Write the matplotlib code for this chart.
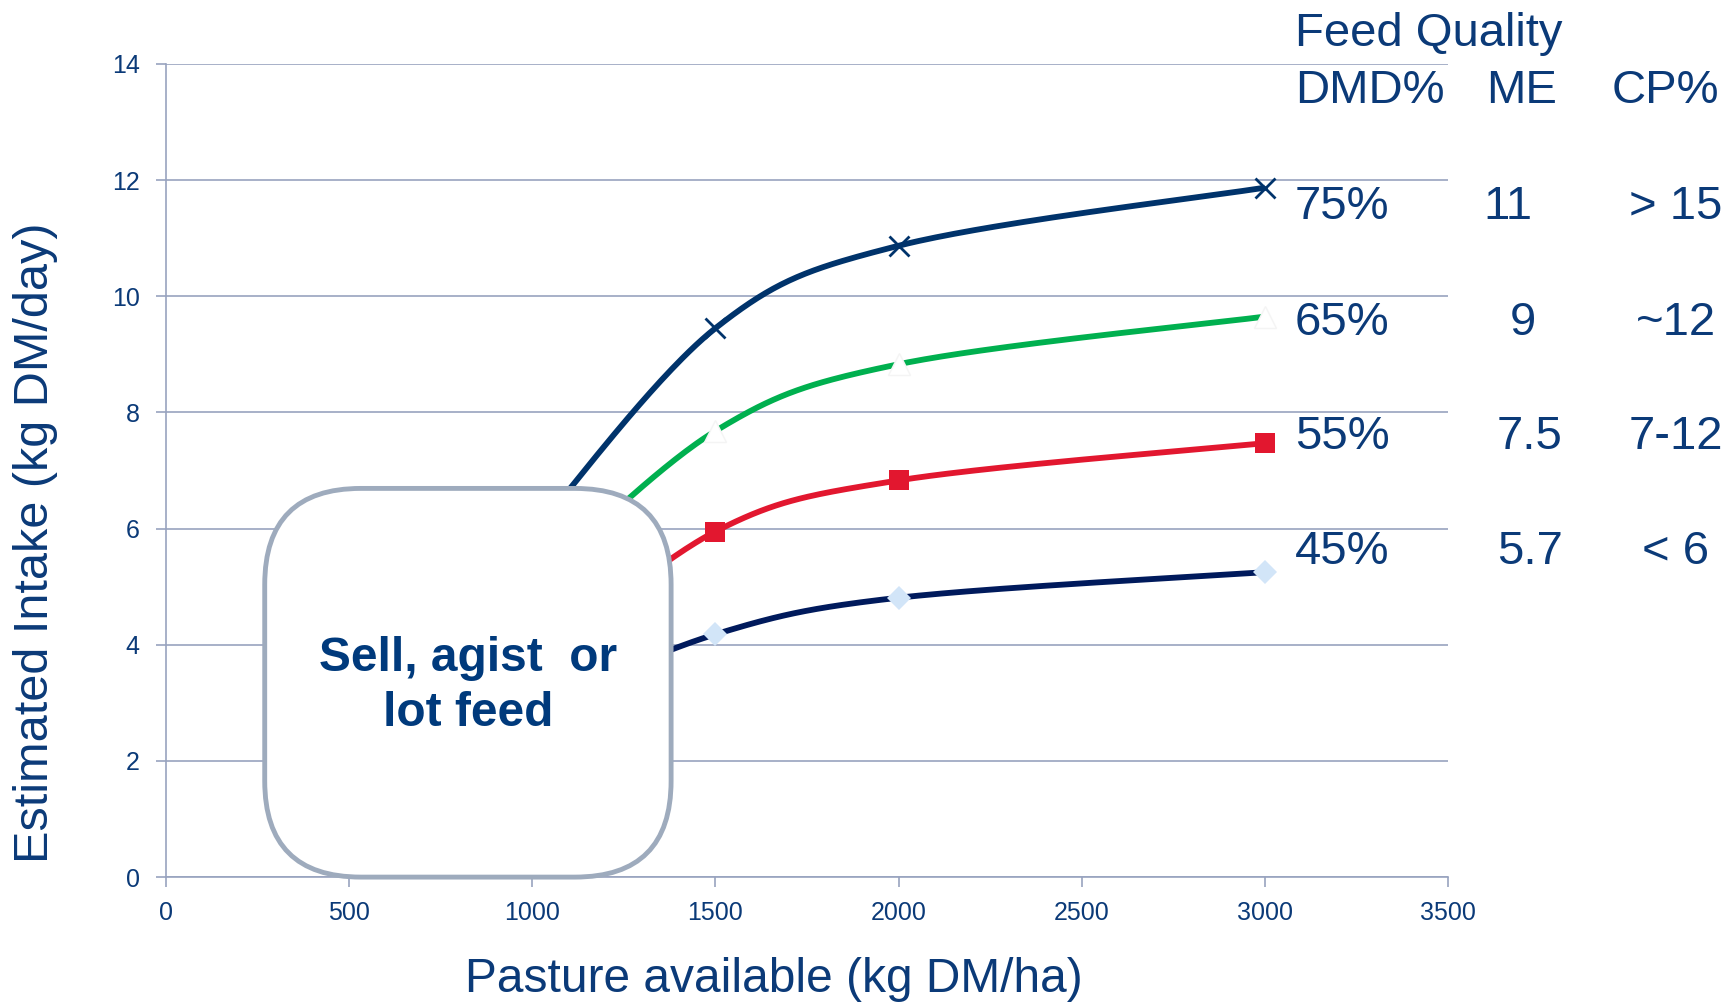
import numpy as np
import matplotlib
matplotlib.use("Agg")
import matplotlib.pyplot as plt
from matplotlib.patches import FancyBboxPatch

plt.rcParams['font.family'] = ['Liberation Sans', 'DejaVu Sans']

# pasture available (kg DM/ha) and estimated intake (kg DM/day) per feed quality
pasture = [1000, 1500, 2000, 3000]
intake_75 = [5.9, 9.45, 10.87, 11.87]
intake_65 = [5.0, 7.68, 8.83, 9.65]
intake_55 = [3.6, 5.95, 6.83, 7.47]
intake_45 = [2.9, 4.18, 4.81, 5.25]

dmd_labels = ["75%", "65%", "55%", "45%"]
me_labels = ["11", "9", "7.5", "5.7"]
cp_labels = ["> 15", "~12", "7-12", "< 6"]

navy = "#0b3a78"
grid_col = "#98a3bf"


def smooth(xs, ys, n=60):
    # bezier smoothing through the points, like a spreadsheet "smoothed line"
    p = np.column_stack([xs, ys]).astype(float)
    ext = np.vstack([p[0], p, p[-1]])
    out = []
    t = np.linspace(0, 1, n)[:, None]
    for i in range(len(p) - 1):
        p0, p1 = ext[i + 1], ext[i + 2]
        c1 = p0 + (ext[i + 2] - ext[i]) / 6
        c2 = p1 - (ext[i + 3] - ext[i + 1]) / 6
        seg = ((1 - t) ** 3) * p0 + 3 * ((1 - t) ** 2) * t * c1 + 3 * (1 - t) * t ** 2 * c2 + t ** 3 * p1
        out.append(seg)
    out = np.vstack(out)
    return out[:, 0], out[:, 1]


W, H = 1731, 1007
fig = plt.figure(figsize=(W / 100, H / 100), dpi=100)
ax = fig.add_axes([0.0959, 0.129, 0.7406, 0.8075])

series = [
    (intake_75, "#00336b", dict(marker="x", ms=14, mew=2, mfc="none", mec="#00336b")),
    (intake_65, "#00b04f", dict(marker="^", ms=16, mew=1, mfc="white", mec="#f4f4f4")),
    (intake_55, "#e2172f", dict(marker="s", ms=14, mew=0, mfc="#e2172f")),
    (intake_45, "#001a5c", dict(marker="D", ms=12, mew=0, mfc="#d2e5f8")),
]
for ys, col, mk in series:
    sx, sy = smooth(pasture, ys)
    ax.plot(sx, sy, color=col, lw=4.2, solid_capstyle="butt", zorder=3)
    ax.plot(pasture, ys, ls="none", zorder=4, **mk)

ax.set_xlim(0, 3500)
ax.set_ylim(0, 14)
ax.set_xticks(np.arange(0, 3501, 500))
ax.set_yticks(np.arange(0, 15, 2))
ax.yaxis.grid(True, color=grid_col, lw=1.2)
ax.set_axisbelow(True)
for s in ["top", "right"]:
    ax.spines[s].set_visible(False)
for s in ["left", "bottom"]:
    ax.spines[s].set_color(grid_col)
    ax.spines[s].set_linewidth(1.2)
ax.tick_params(colors=grid_col, labelcolor=navy, labelsize=18, length=7, width=1.2)
ax.tick_params(axis="y", pad=12)
ax.tick_params(axis="x", pad=10)

# axis titles
fig.text(36 / W, 1 - 543 / H, "Estimated Intake (kg DM/day)", rotation=90,
         ha="center", va="center", fontsize=35, color=navy)
fig.text(774 / W, 1 - 980 / H, "Pasture available (kg DM/ha)",
         ha="center", va="center", fontsize=34.5, color=navy)

# rounded callout box over the low-pasture region
bx0, bx1, by0, by1 = 0.077, 0.394, 0.0, 0.478
asp = (0.7406 * W) / (0.8075 * H)
box = FancyBboxPatch((bx0, by0), bx1 - bx0, by1 - by0,
                     boxstyle="round,pad=0,rounding_size=0.075",
                     mutation_aspect=asp, transform=ax.transAxes,
                     fc="white", ec="#9eabbd", lw=3.5, zorder=6, clip_on=False)
ax.add_patch(box)
ax.text((bx0 + bx1) / 2, 0.235, "Sell, agist  or\nlot feed", transform=ax.transAxes,
        ha="center", va="center", fontsize=34.5, fontweight="bold", color="#003a7c",
        linespacing=1.3, zorder=7)

# feed quality table on the right
def ftext(x, y, s, ha="left"):
    fig.text(x / W, 1 - y / H, s, ha=ha, va="center", fontsize=34, color=navy)

ftext(1295, 34, "Feed Quality")
ftext(1295, 91, "DMD%")
ftext(1522, 91, "ME", ha="center")
ftext(1612, 91, "CP%")
row_y = [207, 323, 437, 552]
me_x = [1508, 1523, 1530, 1530]
for y, mx, d, m, c in zip(row_y, me_x, dmd_labels, me_labels, cp_labels):
    ftext(1295, y, d)
    ftext(mx, y, m, ha="center")
    ftext(1676, y, c, ha="center")

fig.savefig("out.png", dpi=100)
